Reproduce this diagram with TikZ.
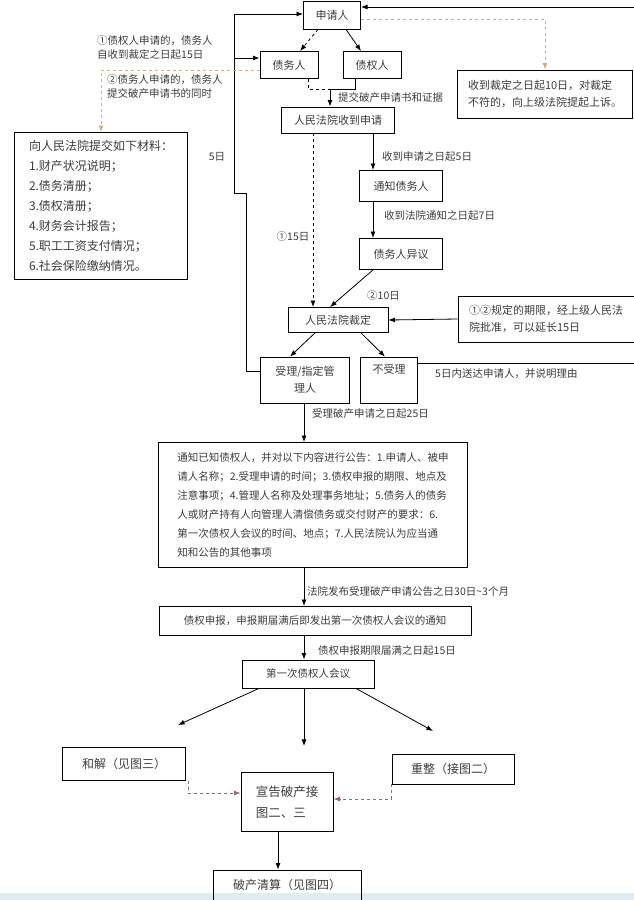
\documentclass[tikz,border=0pt]{standalone}
\usepackage{fontspec}
\setmainfont{Noto Sans CJK SC}
\usepackage{xcolor}
\usetikzlibrary{arrows.meta, positioning}
\definecolor{inkgray}{RGB}{60,60,60}
\definecolor{tanline}{RGB}{205,175,120}
\definecolor{brownline}{RGB}{150,105,105}
\definecolor{bandblue}{RGB}{225,236,242}

\begin{document}
\begin{tikzpicture}[x=1pt, y=-1pt,
        box/.style={rectangle, draw=black, thick, text=inkgray, font=\fontsize{11}{17}\selectfont, inner sep=3pt},
        flow/.style={-{Latex}, thick},
        hint/.style={text=inkgray, font=\fontsize{10.5}{14}\selectfont, inner sep=1pt},
        waitline/.style={dashed, thick, -{Latex}},
        tanline/.style={dashed, thick, draw=tanline, -{Latex}},
        brownline/.style={dashed, thick, draw=brownline, -{Latex}}
    ]
        \useasboundingbox (0,0) rectangle (634,900);
        \fill[bandblue] (0,893) rectangle (634,900);

        % Application stage
        \node[box, minimum width=57, minimum height=28] (app) at (332,15) {申请人};
        \node[box, minimum width=58, minimum height=27] (debtor) at (289,65) {债务人};
        \node[box, minimum width=58, minimum height=27] (creditor) at (372,65) {债权人};
        \node[box, minimum width=113, minimum height=26] (recv) at (338,120) {人民法院收到申请};
        \node[box, minimum width=83, minimum height=31] (notify) at (401,186) {通知债务人};
        \node[box, minimum width=83, minimum height=31] (objection) at (401,254) {债务人异议};
        \node[box, minimum width=100, minimum height=25] (ruling) at (338,320) {人民法院裁定};
        \node[box, minimum width=176, minimum height=46, align=left] (extend) at (546,319) {①②规定的期限，经上级人民法\\院批准，可以延长15日};
        \node[box, minimum width=175, minimum height=48, align=left] (appeal) at (545,94) {收到裁定之日起10日，对裁定\\不符的，向上级法院提起上诉。};
        \node[box, minimum width=173, minimum height=147, align=left, font=\fontsize{12}{20}\selectfont] (materials) at (101,206) {向人民法院提交如下材料：\\1.财产状况说明；\\2.债务清册；\\3.债权清册；\\4.财务会计报告；\\5.职工工资支付情况；\\6.社会保险缴纳情况。};
        \node[box, minimum width=89, minimum height=46, align=center] (accept) at (305,380) {受理/指定管\\理人};
        \node[box, minimum width=57, minimum height=46, align=center] (reject) at (389,380) {不受理\\\strut};

        % Proceedings
        \node[box, minimum width=309, minimum height=125, align=left, font=\fontsize{10.5}{19}\selectfont] (notice) at (313,505) {通知已知债权人，并对以下内容进行公告：1.申请人、被申\\请人名称；2.受理申请的时间；3.债权申报的期限、地点及\\注意事项；4.管理人名称及处理事务地址；5.债务人的债务\\人或财产持有人向管理人清偿债务或交付财产的要求：6.\\第一次债权人会议的时间、地点；7.人民法院认为应当通\\知和公告的其他事项};
        \node[box, minimum width=312, minimum height=29, font=\fontsize{10.5}{14}\selectfont] (claim) at (315,621) {债权申报，申报期届满后即发出第一次债权人会议的通知};
        \node[box, minimum width=132, minimum height=28, font=\fontsize{10.5}{14}\selectfont] (meeting) at (308,674) {第一次债权人会议};
        \node[box, minimum width=123, minimum height=33, font=\fontsize{12}{15}\selectfont] (settle) at (124,764) {和解（见图三）};
        \node[box, minimum width=92, minimum height=59, align=left, font=\fontsize{12.5}{21}\selectfont] (bankrupt) at (287,802) {宣告破产接\\图二、三};
        \node[box, minimum width=122, minimum height=30, font=\fontsize{12}{15}\selectfont] (reorg) at (453,769) {重整（接图二）};
        \node[box, minimum width=148, minimum height=30, font=\fontsize{12}{15}\selectfont] (liquid) at (287,885) {破产清算（见图四）};

        % Free ends
        \coordinate (join) at (330,89);
        \coordinate (bend) at (246,193);
        \coordinate (loop) at (234,193);
        \coordinate (fork) at (234,58);
        \coordinate (topR) at (634,7);
        \coordinate (rejR) at (634,363);
        \coordinate (toSettle) at (178,725);
        \coordinate (toBankrupt) at (304,746);
        \coordinate (toReorg) at (433,731);

        % Connectors
        \draw[waitline] ([xshift=-14]app.south) -- ([xshift=11]debtor.north);
        \draw[flow] ([xshift=14]app.south) -- ([xshift=-11]creditor.north);
        \draw[thick, dashed] ([xshift=19]debtor.south) |- (join);
        \draw[thick] ([xshift=-17]creditor.south) |- (join);
        \draw[flow] (join) -- (join |- recv.north);
        \draw[flow] ([xshift=35]recv.south) -- ([xshift=-28]notify.north);
        \draw[flow] ([xshift=-28]notify.south) -- ([xshift=-28]objection.north);
        \draw[flow] ([xshift=-28]objection.south) -- ([xshift=-8]ruling.north);
        \draw[waitline] ([xshift=-25]recv.south) -- ([xshift=-25]ruling.north);
        \draw[flow] (extend.west) -- (ruling.east);
        \draw[flow] ([xshift=-23]ruling.south) -- ([xshift=-15]accept.north);
        \draw[flow] ([xshift=23]ruling.south) -- ([xshift=-4]reject.north);
        \draw[flow] ([yshift=9]accept.west) -| (bend) -- (loop) |- ([yshift=1]app.west);
        \draw[flow] (fork) -- ([yshift=7]debtor.west);
        \draw[tanline] ([yshift=-5]debtor.west) -| (materials.north);
        \draw[tanline] ([yshift=-4]app.east) -| (appeal.north);
        \draw[flow] (topR) -- ([yshift=8]app.east);
        \draw[thick] ([yshift=17]reject.east) -- (rejR);
        \draw[flow] ([xshift=-1]accept.south) -- ([xshift=-9]notice.north);
        \draw[flow] ([xshift=-9]notice.south) -- ([xshift=-11]claim.north);
        \draw[flow] ([xshift=-11]claim.south) -- ([xshift=-4]meeting.north);
        \draw[flow] ([xshift=-49]meeting.south) -- (toSettle);
        \draw[flow] ([xshift=-4]meeting.south) -- (toBankrupt);
        \draw[flow] ([xshift=48]meeting.south) -- (toReorg);
        \draw[brownline] ([xshift=2]settle.south east) |- ([yshift=9]bankrupt.west);
        \draw[brownline] (reorg.south west) |- ([yshift=3]bankrupt.east);
        \draw[flow] ([xshift=-9]bankrupt.south) -- ([xshift=-9]liquid.north);

        % Labels
        \node[hint, anchor=west, align=left] at (96,48) {①债权人申请的，债务人\\自收到裁定之日起15日};
        \node[hint, anchor=west, align=left, fill=white] at (106,87) {②债务人申请的，债务人\\提交破产申请书的同时};
        \node[hint, anchor=west] at (337,97) {提交破产申请书和证据};
        \node[hint] at (217,157) {5日};
        \node[hint, anchor=west] at (381,157) {收到申请之日起5日};
        \node[hint, anchor=west] at (383,216) {收到法院通知之日起7日};
        \node[hint] at (293,237) {①15日};
        \node[hint, anchor=west] at (366,296) {②10日};
        \node[hint, anchor=west] at (434,374) {5日内送达申请人，并说明理由};
        \node[hint, anchor=west] at (311,414) {受理破产申请之日起25日};
        \node[hint, anchor=west] at (306,592) {法院发布受理破产申请公告之日30日\textasciitilde 3个月};
        \node[hint, anchor=west] at (317,651) {债权申报期限届满之日起15日};
    \end{tikzpicture}
\end{document}
